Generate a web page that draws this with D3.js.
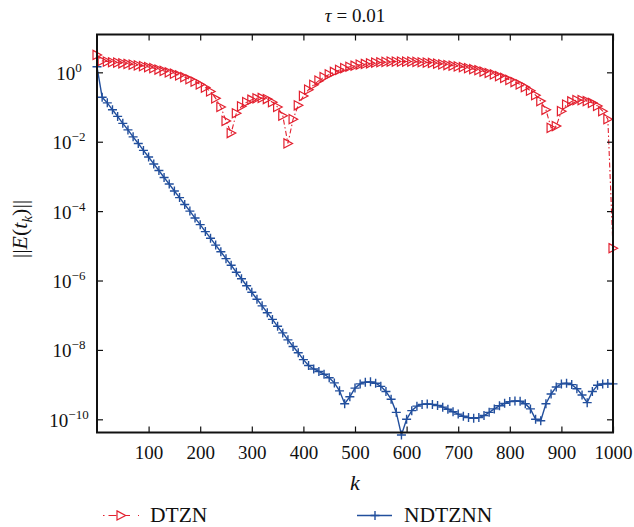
<!DOCTYPE html>
<html>
<head>
<meta charset="utf-8">
<script src="https://cdn.jsdelivr.net/npm/d3@7"></script>
<style>
  html, body { margin: 0; padding: 0; background: #fff; }
  svg { display: block; }
  text { font-family: "Liberation Serif", "DejaVu Serif", serif; fill: #111; }
</style>
</head>
<body>
<svg id="chart" width="634" height="527"></svg>
<script>
// ---- data (k sampled every 10, values as log10 of ||E(t_k)||) ----
const kValues = d3.range(0, 1001, 10);
const dtznLog10 = [
  0.50, 0.33, 0.31, 0.29, 0.28, 0.26, 0.24, 0.22, 0.20, 0.18,
  0.15, 0.12, 0.08, 0.04, 0.00, -0.04, -0.09, -0.14, -0.20, -0.27,
  -0.35, -0.44, -0.55, -0.75, -1.00, -1.40, -1.75, -1.18, -0.98, -0.86,
  -0.79, -0.75, -0.74, -0.77, -0.86, -1.00, -1.25, -2.05, -1.35, -0.95,
  -0.68, -0.50, -0.36, -0.24, -0.14, -0.06, 0.01, 0.07, 0.12, 0.16,
  0.19, 0.22, 0.24, 0.26, 0.28, 0.29, 0.30, 0.31, 0.31, 0.31,
  0.31, 0.31, 0.30, 0.29, 0.28, 0.27, 0.25, 0.23, 0.21, 0.19,
  0.17, 0.15, 0.12, 0.09, 0.06, 0.02, -0.02, -0.06, -0.11, -0.16,
  -0.22, -0.28, -0.35, -0.43, -0.53, -0.66, -0.83, -1.08, -1.60, -1.55,
  -1.12, -0.93, -0.84, -0.80, -0.80, -0.83, -0.88, -0.97, -1.12, -1.35,
  -5.07
];
const ndtznnLog10 = [
  0.16, -0.72, -0.88, -1.08, -1.27, -1.47, -1.66, -1.86, -2.05, -2.25,
  -2.44, -2.64, -2.83, -3.03, -3.22, -3.42, -3.61, -3.81, -4.00, -4.20,
  -4.39, -4.59, -4.78, -4.98, -5.17, -5.37, -5.56, -5.76, -5.95, -6.15,
  -6.34, -6.54, -6.73, -6.93, -7.12, -7.32, -7.51, -7.71, -7.90, -8.08,
  -8.28, -8.45, -8.55, -8.62, -8.70, -8.80, -8.95, -9.18, -9.55, -9.35,
  -9.10, -8.98, -8.93, -8.92, -8.96, -9.05, -9.20, -9.42, -9.80, -10.45,
  -10.00, -9.75, -9.62, -9.57, -9.56, -9.57, -9.60, -9.65, -9.71, -9.78,
  -9.85, -9.91, -9.95, -9.97, -9.95, -9.89, -9.80, -9.70, -9.61, -9.54,
  -9.49, -9.47, -9.48, -9.55, -9.70, -10.00, -10.04, -9.55, -9.27, -9.07,
  -8.98, -8.96, -9.00, -9.12, -9.30, -9.52, -9.20, -9.02, -8.98, -8.97,
  -8.98
];
const xTickValues = [100, 200, 300, 400, 500, 600, 700, 800, 900, 1000];
const yTickExponents = [0, -2, -4, -6, -8, -10];
const seriesNames = ["DTZN", "NDTZNN"];
const titleText = "0.01";

// ---- layout ----
const svg = d3.select("#chart");
const pLeft = 97, pRight = 613, pTop = 34.5, pBottom = 432.5;
const red = "#e3202f", blue = "#224f9d";

const x = d3.scaleLinear().domain([0, 1000]).range([pLeft, pRight]);
const y = d3.scaleLog().domain([Math.pow(10, -10.38), Math.pow(10, 1.09)]).range([pBottom, pTop]);

const dtzn = kValues.map((k, i) => ({k, v: Math.pow(10, dtznLog10[i])}));
const ndtznn = kValues.map((k, i) => ({k, v: Math.pow(10, ndtznnLog10[i])}));

// ---- lines ----
const line = d3.line().x(d => x(d.k)).y(d => y(d.v));

svg.append("path").datum(dtzn)
  .attr("d", line).attr("fill", "none")
  .attr("stroke", red).attr("stroke-width", 1.1)
  .attr("stroke-dasharray", "5,2.5,1.5,2.5");

svg.append("path").datum(ndtznn)
  .attr("d", line).attr("fill", "none")
  .attr("stroke", blue).attr("stroke-width", 1.4);

// ---- markers ----
const triPath = "M-4,-4.6L4.6,0L-4,4.6Z";
const plusPath = "M-4.5,0L4.5,0M0,-4.5L0,4.5";

svg.append("g").selectAll("path").data(dtzn).join("path")
  .attr("transform", d => `translate(${x(d.k)},${y(d.v)})`)
  .attr("d", triPath).attr("fill", "none")
  .attr("stroke", red).attr("stroke-width", 1.2);

svg.append("g").selectAll("path").data(ndtznn).join("path")
  .attr("transform", d => `translate(${x(d.k)},${y(d.v)})`)
  .attr("d", plusPath).attr("fill", "none")
  .attr("stroke", blue).attr("stroke-width", 1.4);

// ---- axes (inward ticks on all sides) ----
const tickLen = 6;
const xb = d3.axisBottom(x).tickValues(xTickValues).tickSizeInner(-tickLen).tickSizeOuter(0).tickPadding(13).tickFormat(d3.format("d"));
const xt = d3.axisTop(x).tickValues(xTickValues).tickSizeInner(-tickLen).tickSizeOuter(0).tickFormat("");
const yTickVals = yTickExponents.map(e => Math.pow(10, e));
const yl = d3.axisLeft(y).tickValues(yTickVals).tickSizeInner(-tickLen).tickSizeOuter(0).tickFormat("");
const yr = d3.axisRight(y).tickValues(yTickVals).tickSizeInner(-tickLen).tickSizeOuter(0).tickFormat("");

const gxb = svg.append("g").attr("transform", `translate(0,${pBottom})`).call(xb);
svg.append("g").attr("transform", `translate(0,${pTop})`).call(xt);
const gyl = svg.append("g").attr("transform", `translate(${pLeft},0)`).call(yl);
svg.append("g").attr("transform", `translate(${pRight},0)`).call(yr);

svg.selectAll(".domain").remove();
svg.selectAll(".tick line").attr("stroke", "#111").attr("stroke-width", 1.2);

gxb.selectAll(".tick text")
  .attr("font-family", "Liberation Serif, serif")
  .attr("font-size", 19).attr("fill", "#111");

// y tick labels 10^e
gyl.selectAll(".tick").each(function(d, i) {
  const e = yTickExponents[i];
  const t = d3.select(this).append("text")
    .attr("x", 69 - pLeft).attr("y", 7)
    .attr("text-anchor", "middle")
    .attr("font-size", 19).attr("fill", "#111");
  t.append("tspan").text("10");
  t.append("tspan").attr("font-size", 13).attr("dy", -8)
    .text(e < 0 ? "\u2212" + Math.abs(e) : String(e));
});

// frame
svg.append("rect")
  .attr("x", pLeft).attr("y", pTop)
  .attr("width", pRight - pLeft).attr("height", pBottom - pTop)
  .attr("fill", "none").attr("stroke", "#111").attr("stroke-width", 2);

// ---- titles ----
const title = svg.append("text").attr("x", (pLeft + pRight) / 2).attr("y", 22)
  .attr("text-anchor", "middle").attr("font-size", 19);
title.append("tspan").attr("font-style", "italic").text("\u03C4");
title.append("tspan").text(" = " + titleText);

svg.append("text").attr("x", 355).attr("y", 490)
  .attr("text-anchor", "middle").attr("font-size", 22)
  .attr("font-style", "italic").text("k");

const yLab = svg.append("text")
  .attr("transform", "translate(27,229) rotate(-90)")
  .attr("text-anchor", "middle").attr("font-size", 22);
yLab.append("tspan").text("||");
yLab.append("tspan").attr("font-style", "italic").text("E");
yLab.append("tspan").text("(");
yLab.append("tspan").attr("font-style", "italic").text("t");
yLab.append("tspan").attr("font-style", "italic").attr("font-size", 15).attr("dy", 5).text("k");
yLab.append("tspan").attr("dy", -5).text(")||");

// ---- legend ----
const legY = 515.5;
const leg = svg.append("g");
leg.append("line").attr("x1", 103).attr("x2", 139).attr("y1", legY).attr("y2", legY)
  .attr("stroke", red).attr("stroke-width", 1.1).attr("stroke-dasharray", "1.5,4,8,3,5");
leg.append("path").attr("transform", `translate(121,${legY})`).attr("d", triPath)
  .attr("fill", "white").attr("stroke", red).attr("stroke-width", 1.2);
leg.append("text").attr("x", 150).attr("y", 521.5).attr("font-size", 21.5).text(seriesNames[0]);

leg.append("line").attr("x1", 357).attr("x2", 392).attr("y1", legY).attr("y2", legY)
  .attr("stroke", blue).attr("stroke-width", 1.4);
leg.append("path").attr("transform", `translate(375,${legY})`).attr("d", plusPath)
  .attr("fill", "none").attr("stroke", blue).attr("stroke-width", 1.4);
leg.append("text").attr("x", 404).attr("y", 521.5).attr("font-size", 21.5).text(seriesNames[1]);
</script>
</body>
</html>
